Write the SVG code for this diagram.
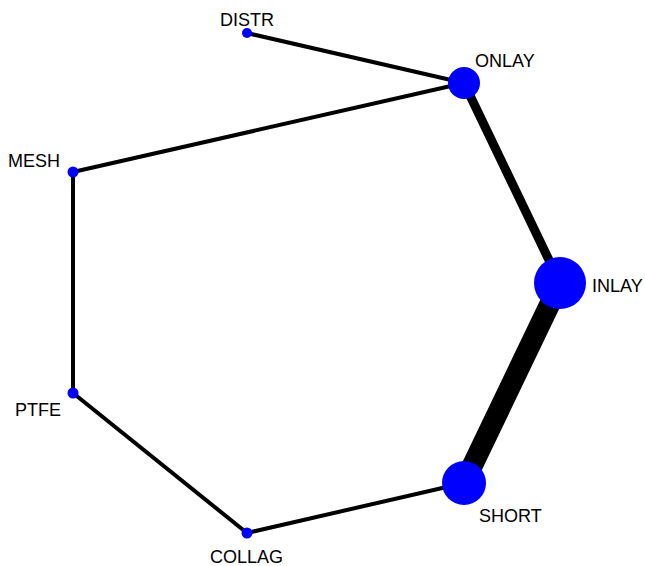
<svg xmlns="http://www.w3.org/2000/svg" width="645" height="566" viewBox="0 0 645 566">
<style>
.e{stroke:#000;stroke-linecap:butt;fill:none}
.n{fill:#0000ff}
.t{font-family:"Liberation Sans",Arial,sans-serif;font-size:18px;fill:#000}
</style>
<rect width="645" height="566" fill="#fff"/>
<g id="edges">
<line class="e" x1="247" y1="33" x2="464" y2="83" stroke-width="4"/>
<line class="e" x1="464" y1="83" x2="73" y2="172" stroke-width="4"/>
<line class="e" x1="73" y1="172" x2="73" y2="393" stroke-width="4"/>
<line class="e" x1="73" y1="393" x2="247" y2="533" stroke-width="4"/>
<line class="e" x1="247" y1="533" x2="464" y2="483" stroke-width="4"/>
<line class="e" x1="464" y1="83" x2="560" y2="283" stroke-width="9"/>
<line class="e" x1="560" y1="283" x2="464" y2="483" stroke-width="21"/>
</g>
<g id="DISTR"><circle class="n" cx="247" cy="33" r="5"/><text class="t" x="220" y="26">DISTR</text></g>
<g id="ONLAY"><circle class="n" cx="464" cy="83" r="16"/><text class="t" x="475" y="67">ONLAY</text></g>
<g id="INLAY"><circle class="n" cx="560" cy="283" r="26"/><text class="t" x="592" y="292">INLAY</text></g>
<g id="SHORT"><circle class="n" cx="464" cy="483" r="22"/><text class="t" x="479" y="522">SHORT</text></g>
<g id="COLLAG"><circle class="n" cx="247" cy="533" r="5.5"/><text class="t" x="210" y="563">COLLAG</text></g>
<g id="PTFE"><circle class="n" cx="73" cy="393" r="5.5"/><text class="t" x="15" y="416">PTFE</text></g>
<g id="MESH"><circle class="n" cx="73" cy="172" r="5.5"/><text class="t" x="8" y="167">MESH</text></g>
</svg>
